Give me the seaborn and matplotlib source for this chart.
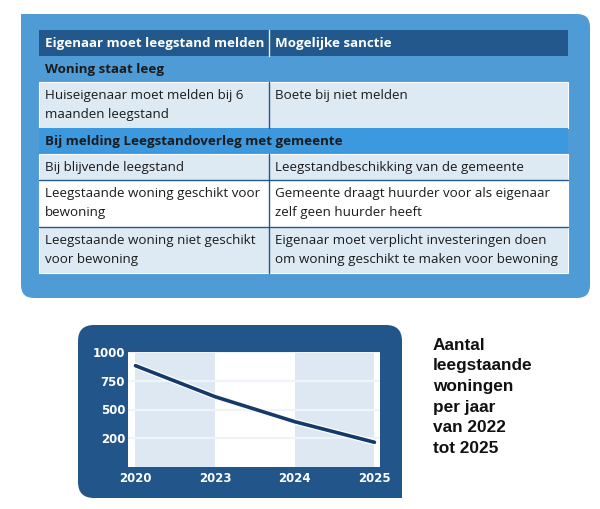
"""Leegstand infographic: table with rules plus small line chart."""
import numpy as np
import matplotlib
matplotlib.use("Agg")
import matplotlib.pyplot as plt
import matplotlib.patheffects as pe
from matplotlib.patches import FancyBboxPatch, Rectangle
import seaborn as sns

# ----------------------------------------------------------------------------
# data
# ----------------------------------------------------------------------------
years = ["2020", "2023", "2024", "2025"]
leegstand = [881, 611, 394, 215]
y_ticks = [1000, 750, 500, 250]
y_tick_labels = ["1000", "750", "500", "200"]

header = ["Eigenaar moet leegstand melden", "Mogelijke sanctie"]
section_1 = "Woning staat leeg"
rows_1 = [(["Huiseigenaar moet melden bij 6", "maanden leegstand"],
           ["Boete bij niet melden"])]
section_2 = "Bij melding Leegstandoverleg met gemeente"
rows_2 = [(["Bij blijvende leegstand"],
           ["Leegstandbeschikking van de gemeente"]),
          (["Leegstaande woning geschikt voor", "bewoning"],
           ["Gemeente draagt huurder voor als eigenaar", "zelf geen huurder heeft"]),
          (["Leegstaande woning niet geschikt", "voor bewoning"],
           ["Eigenaar moet verplicht investeringen doen",
            "om woning geschikt te maken voor bewoning"])]
side_text = ["Aantal", "leegstaande", "woningen", "per jaar", "van 2022", "tot 2025"]

# ----------------------------------------------------------------------------
# colours
# ----------------------------------------------------------------------------
panel_col = '#4f9bd6'
header_col = '#22588c'
light_col = '#dde9f3'
bright_col = '#3c98df'
box_col = '#22568a'
band_col = '#dde8f2'
line_col = '#143a6b'
text_col = '#1b1b1b'

sns.set_style("white")
table_font = ['Open Sans', 'DejaVu Sans']

fig = plt.figure(figsize=(6, 5.09), dpi=100)
fig.patch.set_facecolor('white')

# background axes in pixel coordinates
bg = fig.add_axes([0, 0, 1, 1])
bg.set_xlim(0, 600)
bg.set_ylim(509, 0)
bg.axis('off')

# ----------------------------------------------------------------------------
# table panel
# ----------------------------------------------------------------------------
bg.add_patch(FancyBboxPatch((21, 14), 569, 284, boxstyle="round,pad=0,rounding_size=13",
                            fc=panel_col, ec='none'))
bg.add_patch(Rectangle((21, 14), 25, 25, fc=panel_col, ec='none'))

x0, x1, xm = 39, 568, 269
tx = 6  # text inset
fs = 9.6
line_h = 18.8


def cell_text(lines, x, top, weight='normal', color=text_col):
    # text sits at the top of the cell, one line per 18.8 px
    for i, s in enumerate(lines):
        bg.text(x + tx, top + 13.8 + i * line_h, s, ha='left', va='center',
                fontsize=fs, family=table_font, weight=weight, color=color)


# header
bg.add_patch(Rectangle((x0, 30), x1 - x0, 26, fc=header_col, ec='none'))
bg.plot([xm, xm], [30, 56], color='#e8f0f7', lw=1)
cell_text([header[0]], x0, 30, weight='bold', color='white')
cell_text([header[1]], xm, 30, weight='bold', color='white')

# section 1
cell_text([section_1], x0, 56, weight='bold')
bounds_1 = [(82, 128)]
for (left, right), (top, bottom) in zip(rows_1, bounds_1):
    bg.add_patch(Rectangle((x0, top), x1 - x0, bottom - top, fc=light_col, ec='white', lw=0.8))
    bg.plot([xm, xm], [top, bottom], color=header_col, lw=1)
    cell_text(left, x0, top)
    cell_text(right, xm, top)

# section 2
bg.add_patch(Rectangle((x0, 128), x1 - x0, 26, fc=bright_col, ec='none'))
cell_text([section_2], x0, 128, weight='bold')
bounds_2 = [(154, 180), (180, 227), (227, 273)]
fills_2 = [light_col, 'white', light_col]
for (left, right), (top, bottom), fc in zip(rows_2, bounds_2, fills_2):
    bg.add_patch(Rectangle((x0, top), x1 - x0, bottom - top, fc=fc, ec='white', lw=0.8))
    cell_text(left, x0, top)
    cell_text(right, xm, top)
for yl in [180, 227]:
    bg.plot([x0, x1], [yl, yl], color=header_col, lw=1)
bg.plot([xm, xm], [154, 273], color=header_col, lw=1)

# ----------------------------------------------------------------------------
# chart box
# ----------------------------------------------------------------------------
bg.add_patch(FancyBboxPatch((78, 325), 324, 173, boxstyle="round,pad=0,rounding_size=16",
                            fc=box_col, ec='none'))
bg.add_patch(Rectangle((380, 475), 22, 23, fc=box_col, ec='none'))

for i, s in enumerate(side_text):
    bg.text(433, 345 + i * 20.7, s, ha='left', va='center', fontsize=12.4,
            family='Liberation Sans', weight='bold', color='#111111')

# ----------------------------------------------------------------------------
# line chart
# ----------------------------------------------------------------------------
ax = fig.add_axes([128 / 600, (509 - 467) / 509, 252 / 600, 115 / 509])
ax.set_facecolor('white')
pos = np.arange(len(years))
ax.axvspan(pos[0], pos[1], color=band_col, lw=0, zorder=0)
ax.axvspan(pos[2], pos[3], color=band_col, lw=0, zorder=0)
ax.grid(axis='y', color='#eef4fa', lw=1.6, zorder=1)
ax.grid(axis='x', visible=False)
ax.set_axisbelow(True)

sns.lineplot(x=pos, y=leegstand, ax=ax, color=line_col, lw=2.6, zorder=3,
             path_effects=[pe.withStroke(linewidth=4.4, foreground='white')])

ax.set_xlim(-0.094, 3.07)
ax.set_ylim(0, 1000)
ax.set_xticks(pos)
ax.set_xticklabels(years)
ax.set_yticks(y_ticks)
ax.set_yticklabels(y_tick_labels)
ax.tick_params(length=0, colors='white', labelsize=8.5)
ax.tick_params(axis='y', pad=2)
ax.tick_params(axis='x', pad=3.5)
for lab in ax.get_xticklabels() + ax.get_yticklabels():
    lab.set_fontweight('bold')
    lab.set_family('DejaVu Sans')
for sp in ax.spines.values():
    sp.set_visible(False)

fig.savefig('out.png', dpi=100)
